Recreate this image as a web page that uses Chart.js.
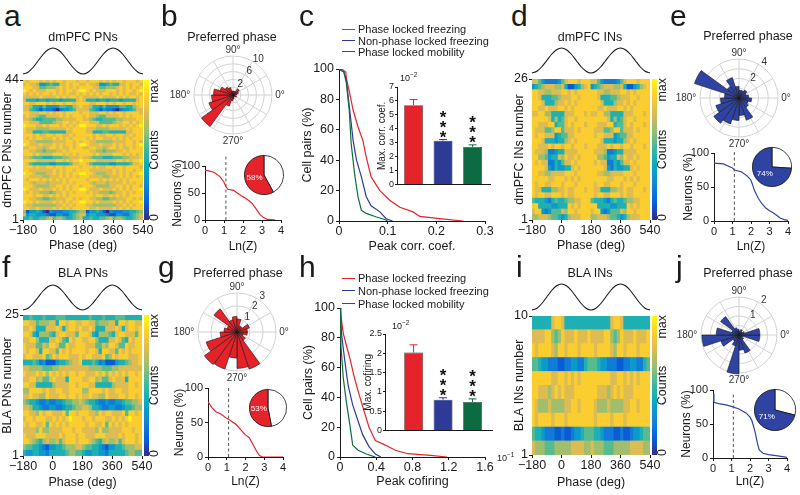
<!DOCTYPE html>
<html><head><meta charset="utf-8">
<script src="https://cdn.jsdelivr.net/npm/chart.js@4.4.1/dist/chart.umd.min.js"></script>
<style>
html,body{margin:0;padding:0;background:#fff;}
#fig{position:relative;width:800px;height:495px;overflow:hidden;font-family:"Liberation Sans",Arial,Helvetica,sans-serif;color:#1a1a1a;}
#fig canvas{position:absolute;}
.t{position:absolute;white-space:nowrap;line-height:1;}
.t sup{font-size:70%;vertical-align:top;position:relative;top:-2px;}
.lg{position:absolute;height:0;border-top:1.4px solid;}
</style></head><body><div id="fig"></div>
<script>
// ================= DATA =================
const phaseTicks = [-180, 0, 180, 360, 540];
const binsPerCycle = 18;
// LFP schematic, one cycle -180..180 every 30 deg
const waveY = [0, 0.07, 0.25, 0.5, 0.75, 0.93, 1, 0.93, 0.75, 0.5, 0.25, 0.07, 0];

// heatmap rows (top row first), 18 phase bins of one cycle, 0 = low ... 9 = max
const pfcPNRows = [
"878887878788788878","787763345447787887","888775566678787878","987877788878788789",
"878787887878787787","777778777787878878","744434434443444478","887788878788788788",
"776443533335544678","775431322102334577","887778878788788887","787765577778787888",
"776544555566777788","887775555677887878","988877878887878789","877766667777787888",
"877444554444477888","888787788788778788","878788777878787888","887766666777788787",
"987778777878788789","778877678878778788","887766566677878888","888787777888787878",
"776555444555667778","888877777788787889","875444443344445778","888787788788788887",
"887777777878788788","988766677878787889","887777667778787878","878887878787878888",
"887677767777878788","888766667788787887","987778777878787889","878776665677878788",
"888788778787878888","887766556677788787","988787777878787889","877666666677878788",
"887787777878787888","613343103222334456","734433321133224567","445445567566544567"];
const pfcINRows = [
"775322223578887888","345677766741134678","887766777887878888","887444556777887888",
"888744467787878888","887787778878788888","778866444477788878","888887464578878888",
"887778845578788878","877755688577787888","878877734557788888","888744434467878888",
"887778788788788878","877762234477778888","886653447687787888","878772243577878888",
"888873243344787888","887766777788878888","888887788878787888","878877888788878888",
"877444667787788878","878877888787788888","544432454456677888","884444334448787888",
"788323555768878888","667776554346777888"];
const blaPNRows = [
"445444544455544444","887756667748878877","778744477787478878","887436665478877758",
"778864447787548788","877755768875587788","878874887758787888","788777856878887778",
"444542311134456778","776666555667777777","877787868787878878","778867557877748888",
"887744444677778878","668888787788778888","778776687778878878","654432232233455667",
"776443223322344566","887768788777858878","788788877878789888","878877858787878888",
"777768667777888788","877788877778788878","887654676675788878","655443213344566677",
"433443324444456655"];
const blaINRows = [
"444444788744444444","777788656877787778","878888768878887888","554332221122332245",
"888888778878787888","887776787877788888","876667666677887888","878888788878888888",
"544322211211233455","766655566666777766"];
const countLevels = 9.2;   // digit / countLevels -> position on the colour scale

// rose histograms: 20 bins of 18 deg, counter-clockwise from 0 deg
const roseB = [1, 1.5, 2, 1, 1, 1, 2, 2.5, 3.5, 5, 5.5, 6.5, 10, 3, 1.5, 1, 0.5, 0.5, 1, 0.5];
const roseE = [1.0, 0.8, 1.0, 0.8, 0.8, 1.2, 2.2, 1.5, 4.8, 1.5, 1.9, 2.5, 3.2, 2.8, 2.3, 1.8, 2.4, 1.2, 1.0, 1.3];
const roseG = [0.8, 1.0, 0.5, 0.5, 1.0, 1.2, 1.0, 2.2, 0.8, 1.0, 1.3, 2.5, 3.1, 3.0, 2.0, 2.8, 3.0, 0.8, 0.5, 0.8];
const roseJ = [1.1, 0.3, 0.2, 0.3, 0.2, 0.3, 0.4, 1.2, 0.4, 1.2, 1.95, 1.0, 0.4, 0.6, 2.05, 0.8, 1.0, 0.3, 0.2, 1.1];

// % neurons with Ln(Z) above x
const lnzBx = [0,0.2,0.5,0.8,1.0,1.1,1.2,1.5,1.7,1.9,2.1,2.3,2.5,2.7,2.9,3.1,3.3,3.6,3.7];
const lnzBy = [92,91,88,80,70,62,57,55,50,45,41,36,30,20,10,4,1,0.3,0];
const lnzEx = [0,0.5,1.0,1.1,1.5,1.8,2.0,2.1,2.2,2.4,2.6,2.8,3.0,3.2,3.4,3.6,3.8,4.0];
const lnzEy = [85,84,78,75,72,66,60,52,44,33,25,19,15,12,8,4,2,1];
const lnzGx = [0,0.2,0.4,0.7,1.0,1.2,1.5,1.8,2.0,2.2,2.4,2.6,2.75,2.9,4.0];
const lnzGy = [80,72,66,62,56,53,47,38,32,28,18,8,2,0,0];
const lnzJx = [0,0.05,0.3,0.7,1.0,1.4,1.8,2.0,2.1,2.2,2.3,2.4,2.5,2.7,3.0,3.5,4.0];
const lnzJy = [95,82,80,78,76,72,66,60,55,46,35,22,12,7,5,3,1];
const lnzThreshold = 1.1;
const pieB = 58, pieE = 74, pieG = 53, pieJ = 71;

// c: cumulative peak correlation coefficient
const corrRedX = [0,0.008,0.014,0.015,0.022,0.029,0.039,0.049,0.056,0.066,0.084,0.104,0.125,0.152,0.166,0.207,0.255];
const corrRedY = [100,99.5,98,94,84,73,62,53,42,29,20,13.7,9,6,3,1.5,0];
const corrBlueX = [0,0.01,0.015,0.022,0.029,0.036,0.046,0.056,0.066,0.084,0.097,0.11];
const corrBlueY = [100,98,93,73,53,40,29,16,10,6,1.5,0];
const corrGreenX = [0,0.01,0.015,0.021,0.025,0.032,0.039,0.046,0.056,0.077,0.094,0.1];
const corrGreenY = [100,98,91,73,51,31,16,7,5,2.6,1,0];
const corrBars = [5.7, 3.15, 2.7];
const corrErr = [0.4, 0.08, 0.15];
// h: cumulative peak cofiring (x in units of 10^-1)
const cofRedX = [0,0.018,0.036,0.07,0.11,0.16,0.21,0.27,0.32,0.39,0.5,0.61,0.75,1.0,1.18];
const cofRedY = [100,91,83,75,66,53,42,30,20,11,8,4.5,2.2,1.1,0];
const cofBlueX = [0,0.018,0.054,0.09,0.14,0.2,0.25,0.32,0.39,0.45];
const cofBlueY = [100,82,64,48,35,24,15,7,2,0];
const cofGreenX = [0,0.01,0.036,0.07,0.11,0.14,0.2,0.29,0.39];
const cofGreenY = [100,75,53,37,21,8,4.5,2,0];
const cofBars = [2.02, 0.80, 0.74];
const cofErr = [0.2, 0.05, 0.08];
const starFlags = [false, true, true];
const groupNames = ['Phase locked freezing', 'Non-phase locked freezing', 'Phase locked mobility'];

// ================= STYLE =================
const INK = '#1a1a1a';
const FONT = '"Liberation Sans", Arial, Helvetica, sans-serif';
const RED = '#e4232b', BLUE = '#2d3b96', GREEN = '#0d6b42';
const ROSE_RED = '#e5222a', ROSE_BLUE = '#2f44a2';
const PARULA = ['#352a87','#0363e1','#1485d4','#06a7c6','#38b99e','#92bf73','#d9ba56','#fcce2e','#f9fb0e'];
const PAR_RGB = PARULA.map(h => [1,3,5].map(i => parseInt(h.substr(i,2),16)));
function parula(t){ t = Math.max(0, Math.min(1, t)); const p = t*(PAR_RGB.length-1); const i = Math.min(Math.floor(p), PAR_RGB.length-2); const f = p - i; const a = PAR_RGB[i], b = PAR_RGB[i+1]; return 'rgb(' + a.map((v,k)=>Math.round(v+(b[k]-v)*f)).join(',') + ')'; }

Chart.defaults.font.family = FONT;
Chart.defaults.color = INK;
Chart.defaults.animation = false;
Chart.defaults.responsive = false;
Chart.defaults.maintainAspectRatio = false;
Chart.defaults.devicePixelRatio = 1;
Chart.defaults.events = [];
Chart.defaults.plugins.legend.display = false;
Chart.defaults.plugins.tooltip.enabled = false;
Chart.defaults.layout.autoPadding = false;

const FIG = document.getElementById('fig');
function addCanvas(x, y, w, h) {
  const c = document.createElement('canvas');
  c.width = w; c.height = h;
  c.style.left = x + 'px'; c.style.top = y + 'px';
  c.style.width = w + 'px'; c.style.height = h + 'px';
  FIG.appendChild(c); return c;
}
function frame(plot, L, B, e) {
  const x = plot.l - L - e.l, y = plot.t - e.t;
  const w = e.l + L + (plot.r - plot.l) + e.r;
  const h = e.t + (plot.b - plot.t) + B + e.b;
  return {canvas: addCanvas(x, y, w, h), padding: {left: e.l, top: e.t, right: e.r, bottom: e.b}};
}
function T(s, x, y, o = {}) {
  const d = document.createElement('div'); d.className = 't';
  d.innerHTML = s;
  d.style.fontSize = (o.size || 12.5) + 'px';
  d.style.left = x + 'px'; d.style.top = y + 'px';
  const ax = o.align === 'l' ? '0' : o.align === 'r' ? '-100%' : '-50%';
  d.style.transform = 'translate(' + ax + ',-50%)';
  if (o.color) d.style.color = o.color;
  FIG.appendChild(d);
}
function axis(o) {
  return {
    type: 'linear', min: o.min, max: o.max, offset: false, display: o.display !== false,
    afterFit: s => { if (s.isHorizontal()) s.height = o.fit; else s.width = o.fit; },
    afterBuildTicks: o.ticks ? (s => { s.ticks = o.ticks.map(v => ({value: v})); }) : undefined,
    ticks: {display: o.showTicks !== false, stepSize: o.step, autoSkip: false, maxRotation: 0, minRotation: 0,
            padding: o.pad ?? 1, font: {size: o.font || 12.5}, color: INK, callback: o.fmt || (v => String(v))},
    grid: {display: o.grid !== false, drawOnChartArea: false, drawTicks: true, tickLength: o.tickLen ?? 3, color: INK, tickColor: INK, offset: false},
    border: {display: o.border !== false, color: INK, width: 1},
    title: {display: !!o.title, text: o.title, font: {size: o.titleSize || 12.5}, padding: 0, color: INK}
  };
}
const fmt1 = v => (Math.abs(v) < 1e-9 ? '0' : String(+v.toFixed(2)));
const fmtPhase = v => (v < 0 ? '\u2212' + Math.abs(v) : String(v));

// ---------- plugins ----------
const colorbarPlugin = {
  id: 'cbar',
  afterDraw(chart, args, o) {
    const {ctx, chartArea: ca} = chart;
    const x0 = ca.right + o.gap, w = o.w;
    const g = ctx.createLinearGradient(0, ca.bottom, 0, ca.top);
    PARULA.forEach((c, i) => g.addColorStop(i / (PARULA.length - 1), c));
    ctx.save();
    ctx.fillStyle = g; ctx.fillRect(x0, ca.top, w, ca.bottom - ca.top);
    ctx.fillStyle = INK; ctx.font = '12.5px ' + FONT; ctx.textBaseline = 'middle';
    const tx = x0 + w + o.tx;
    const put = (s, y, align) => { ctx.save(); ctx.translate(tx, y); ctx.rotate(-Math.PI / 2); ctx.textAlign = align; ctx.fillText(s, 0, 0); ctx.restore(); };
    put('max', ca.top - 1, 'right');
    put('Counts', (ca.top + ca.bottom) / 2, 'center');
    put('0', ca.bottom + 1, 'left');
    ctx.restore();
  }
};
const polarDeco = {
  id: 'polarDeco',
  beforeDatasetsDraw(chart, args, o) {
    const s = chart.scales.r, ctx = chart.ctx, cx = s.xCenter, cy = s.yCenter, R = s.drawingArea;
    ctx.save(); ctx.strokeStyle = '#d2d2d2'; ctx.lineWidth = 1;
    for (let a = 0; a < 360; a += 30) {
      const t = a * Math.PI / 180;
      ctx.beginPath(); ctx.moveTo(cx, cy); ctx.lineTo(cx + R * Math.cos(t), cy - R * Math.sin(t)); ctx.stroke();
    }
    ctx.restore();
  },
  afterDraw(chart, args, o) {
    const s = chart.scales.r, ctx = chart.ctx, cx = s.xCenter, cy = s.yCenter, R = s.drawingArea;
    ctx.save(); ctx.fillStyle = '#333'; ctx.font = '10px ' + FONT; ctx.textAlign = 'center'; ctx.textBaseline = 'middle';
    ctx.fillText('90\u00b0', cx, cy - R - 6);
    ctx.fillText('270\u00b0', cx, cy + R + 7);
    ctx.fillText('180\u00b0', cx - R - 14, cy);
    ctx.fillText('0\u00b0', cx + R + 8, cy);
    const t = 55 * Math.PI / 180;
    o.ring.forEach(v => { const d = s.getDistanceFromCenterForValue(v) + 5; ctx.fillText(String(v), cx + d * Math.cos(t), cy - d * Math.sin(t)); });
    ctx.restore();
  }
};
const pieLabel = {
  id: 'pieLabel',
  afterDraw(chart, args, o) {
    const arc = chart.getDatasetMeta(0).data[1];
    const p = arc.getCenterPoint();
    const ctx = chart.ctx; ctx.save(); ctx.fillStyle = '#fff'; ctx.font = '8px ' + FONT; ctx.textAlign = 'center'; ctx.textBaseline = 'middle';
    ctx.fillText(chart.data.datasets[0].data[1] + '%', p.x, p.y); ctx.restore();
  }
};
const barDeco = {
  id: 'barDeco',
  afterDatasetsDraw(chart, args, o) {
    const meta = chart.getDatasetMeta(0), ys = chart.scales.y, ctx = chart.ctx;
    ctx.save();
    meta.data.forEach((bar, i) => {
      const v = o.values[i], e = o.errors[i];
      const yTop = ys.getPixelForValue(v + e), yV = ys.getPixelForValue(v);
      ctx.strokeStyle = o.colors[i]; ctx.lineWidth = 1;
      ctx.beginPath(); ctx.moveTo(bar.x, yV); ctx.lineTo(bar.x, yTop);
      ctx.moveTo(bar.x - 4, yTop); ctx.lineTo(bar.x + 4, yTop); ctx.stroke();
      if (o.stars[i]) {
        ctx.fillStyle = '#111'; ctx.font = 'bold 17px ' + FONT; ctx.textAlign = 'center'; ctx.textBaseline = 'alphabetic';
        for (let k = 0; k < 3; k++) { const c = yTop - 7 - k * 10; ctx.fillText('*', bar.x, c + 10); }
      }
    });
    ctx.restore();
  }
};

// ---------- builders ----------
function heatmap(rows, plot, L, B, yTitle, cbGap) {
  const N = rows.length;
  const {canvas, padding} = frame(plot, L, B, {l: 0, t: 10, r: 36, b: 3});
  const pmin = phaseTicks[0], pmax = phaseTicks[phaseTicks.length - 1];
  const binW = (pmax - pmin) / (2 * binsPerCycle);
  const cells = [], colors = [];
  rows.forEach((row, k) => {
    const rowNo = N - k;
    const vals = row.split('').map(Number);
    vals.concat(vals).forEach((v, j) => {
      cells.push({x: pmin + binW * (j + 0.5), y: [rowNo - 1, rowNo]});
      colors.push(parula(v / countLevels));
    });
  });
  new Chart(canvas, {
    type: 'bar',
    data: {datasets: [{data: cells, backgroundColor: colors, borderWidth: 0, barPercentage: 1, categoryPercentage: 1, inflateAmount: 0.45}]},
    options: {
      layout: {padding},
      plugins: {cbar: {gap: cbGap, w: 5, tx: 6}},
      scales: {
        x: axis({min: pmin, max: pmax, fit: B, ticks: phaseTicks, fmt: fmtPhase, title: 'Phase (deg)', border: false, pad: 0}),
        y: axis({min: 0, max: N, fit: L, ticks: [0, N], fmt: v => (v === 0 ? '1' : String(N)), title: yTitle, border: false})
      }
    },
    plugins: [colorbarPlugin]
  });
}
function wave(plot) {
  const c = addCanvas(plot.l - 2, plot.t - 2, plot.r - plot.l + 4, plot.b - plot.t + 4);
  const step = 360 / (waveY.length - 1);
  const pts = [];
  for (let cyc = 0; cyc < 2; cyc++) waveY.forEach((y, i) => { if (cyc && !i) return; pts.push({x: phaseTicks[0] + cyc * 360 + i * step, y}); });
  new Chart(c, {
    type: 'line',
    data: {datasets: [{data: pts, borderColor: INK, borderWidth: 1.1, pointRadius: 0, cubicInterpolationMode: 'monotone', clip: false}]},
    options: {layout: {padding: 2}, scales: {x: {type: 'linear', display: false, min: phaseTicks[0], max: phaseTicks[phaseTicks.length - 1]}, y: {type: 'linear', display: false, min: 0, max: 1}}}
  });
}
function rose(vals, cx, cy, R, max, step, ring, color) {
  const c = addCanvas(cx - R - 34, cy - R - 16, 2 * R + 54, 2 * R + 32);
  const n = vals.length;
  const segs = vals.map((_, i) => vals[n - 1 - i]);
  new Chart(c, {
    type: 'polarArea',
    data: {labels: segs.map(() => ''), datasets: [{data: segs, backgroundColor: color, borderColor: '#1a1a1a', borderWidth: 0.6, clip: false}]},
    options: {
      layout: {padding: {left: 34, top: 16, right: 20, bottom: 16}},
      plugins: {polarDeco: {ring}},
      scales: {r: {min: 0, max, startAngle: 90, ticks: {display: false, stepSize: step}, grid: {color: '#d2d2d2', lineWidth: 1}, angleLines: {display: false}, pointLabels: {display: false}}}
    },
    plugins: [polarDeco]
  });
}
function pie(p, cx, cy, r, color) {
  const c = addCanvas(cx - r - 1, cy - r - 1, 2 * r + 2, 2 * r + 2);
  new Chart(c, {
    type: 'pie',
    data: {datasets: [{data: [100 - p, p], backgroundColor: ['#ffffff', color], borderColor: '#111', borderWidth: 0.8}]},
    options: {layout: {padding: 1}, rotation: 0},
    plugins: [pieLabel]
  });
}
function lnzPlot(xs, ys, plot, L, B, dashTop, color) {
  const {canvas, padding} = frame(plot, L, B, {l: 0, t: 10, r: 12, b: 2});
  new Chart(canvas, {
    type: 'line',
    data: {datasets: [
      {data: [{x: lnzThreshold, y: 0}, {x: lnzThreshold, y: dashTop}], borderColor: '#555', borderWidth: 1, borderDash: [3, 2.5], pointRadius: 0, clip: false},
      {data: xs.map((x, i) => ({x, y: ys[i]})), borderColor: color, borderWidth: 1.2, pointRadius: 0}
    ]},
    options: {
      layout: {padding},
      scales: {
        x: axis({min: 0, max: 4, step: 1, fit: B, font: 11, title: 'Ln(Z)', titleSize: 12}),
        y: axis({min: 0, max: 100, step: 50, fit: L, font: 11, title: 'Neurons (%)', titleSize: 12, pad: 2})
      }
    }
  });
}
function cumPlot(series, plot, L, B, xmax, xstep, xTitle) {
  const {canvas, padding} = frame(plot, L, B, {l: 0, t: 10, r: 15, b: 2});
  new Chart(canvas, {
    type: 'line',
    data: {datasets: series.map(s => ({data: s.x.map((x, i) => ({x, y: s.y[i]})), borderColor: s.c, borderWidth: 1.2, pointRadius: 0}))},
    options: {
      layout: {padding},
      scales: {
        x: axis({min: 0, max: xmax, step: xstep, fit: B, fmt: fmt1, title: xTitle, pad: 0}),
        y: axis({min: 0, max: 100, step: 20, fit: L, title: 'Cell pairs (%)', pad: 2})
      }
    }
  });
}
function inset(vals, errs, plot, L, xmin, xmax, ymax, ystep, yTitle) {
  const {canvas, padding} = frame(plot, L, 1, {l: 0, t: 8, r: 4, b: 2});
  const cols = [RED, BLUE, GREEN];
  new Chart(canvas, {
    type: 'bar',
    data: {datasets: [{data: vals.map((v, i) => ({x: i, y: v})), backgroundColor: cols, borderColor: '#2a2a2a', borderWidth: 0.6, borderSkipped: 'bottom', barPercentage: 0.8, categoryPercentage: 0.8}]},
    options: {
      layout: {padding},
      plugins: {barDeco: {values: vals, errors: errs, colors: cols, stars: starFlags}},
      scales: {
        x: axis({min: xmin, max: xmax, fit: 1, ticks: vals.map((_, i) => i), showTicks: false, grid: false}),
        y: axis({min: 0, max: ymax, step: ystep, fit: L, font: 9, title: yTitle, titleSize: 10, fmt: fmt1, tickLen: 2, pad: 1})
      }
    },
    plugins: [barDeco]
  });
}

// ================= BUILD =================
// a
wave({l: 23, t: 48, r: 143, b: 74});
heatmap(pfcPNRows, {l: 23, t: 80, r: 143, b: 220}, 23, 33, 'dmPFC PNs number', 1);
// d
wave({l: 532, t: 48, r: 650, b: 73});
heatmap(pfcINRows, {l: 532, t: 79, r: 650, b: 220}, 20, 33, 'dmPFC INs number', 2);
// f
wave({l: 23, t: 285, r: 142, b: 310});
heatmap(blaPNRows, {l: 23, t: 315, r: 142, b: 456}, 23, 34, 'BLA PNs number', 2);
// i
wave({l: 532, t: 284, r: 650, b: 310});
heatmap(blaINRows, {l: 532, t: 316, r: 650, b: 455}, 20, 35, 'BLA INs number', 2);

// roses
rose(roseB, 233, 95, 39, 10, 2, [2, 6, 10], ROSE_RED);
rose(roseE, 739, 98, 39, 4, 1, [2, 4], ROSE_BLUE);
rose(roseG, 237, 332, 39, 3, 1, [1, 2, 3], ROSE_RED);
rose(roseJ, 739, 335, 38, 2, 0.5, [1, 2], ROSE_BLUE);

// Ln(Z) plots
lnzPlot(lnzBx, lnzBy, {l: 205, t: 166, r: 281, b: 220}, 35, 34, 125, RED);
lnzPlot(lnzEx, lnzEy, {l: 714, t: 153, r: 788, b: 221}, 33, 33, 103, ROSE_BLUE);
lnzPlot(lnzGx, lnzGy, {l: 208, t: 388, r: 283, b: 457}, 36, 32, 100, RED);
lnzPlot(lnzJx, lnzJy, {l: 713, t: 390, r: 787, b: 458}, 34, 31, 97, ROSE_BLUE);
pie(pieB, 264, 175, 20, RED);
pie(pieE, 772, 167, 20, ROSE_BLUE);
pie(pieG, 268, 408, 19, RED);
pie(pieJ, 775, 410, 21, ROSE_BLUE);

// c and h
cumPlot([{x: corrGreenX, y: corrGreenY, c: GREEN}, {x: corrBlueX, y: corrBlueY, c: BLUE}, {x: corrRedX, y: corrRedY, c: RED}],
        {l: 339, t: 69, r: 485, b: 221}, 39, 33, 0.3, 0.1, 'Peak corr. coef.');
inset(corrBars, corrErr, {l: 397, t: 87, r: 490, b: 188}, 21, -0.56, 2.59, 7, 1, 'Max. corr. coef.');
cumPlot([{x: cofGreenX, y: cofGreenY, c: GREEN}, {x: cofBlueX, y: cofBlueY, c: BLUE}, {x: cofRedX, y: cofRedY, c: RED}],
        {l: 340, t: 308, r: 485, b: 457}, 39, 32, 1.6, 0.4, 'Peak cofiring');
inset(cofBars, cofErr, {l: 385, t: 334, r: 492, b: 434}, 23, -0.97, 2.66, 2.5, 0.5, 'Max. cofiring');

// ---------- texts ----------
[['a',4,15.5],['b',161,15.5],['c',299,15.5],['d',511,15.5],['e',670,15.5],
 ['f',2,267],['g',158,267],['h',299,267],['i',516,267],['j',676,267]].forEach(([s,x,y]) => T(s, x, y, {size: 30, align: 'l'}));
T('dmPFC PNs', 83, 36.5); T('Preferred phase', 232, 37); T('dmPFC INs', 590, 36.5); T('Preferred phase', 748, 36);
T('BLA PNs', 83, 272.5); T('Preferred phase', 238, 272.5); T('BLA INs', 590, 272.5); T('Preferred phase', 748, 272.5);
function legend(ys) {
  [RED, BLUE, GREEN].forEach((c, i) => {
    const d = document.createElement('div'); d.className = 'lg';
    d.style.left = '342px'; d.style.top = (ys[i] - 0.7) + 'px'; d.style.width = '13px'; d.style.borderColor = c;
    FIG.appendChild(d);
    T(groupNames[i], 358, ys[i], {size: 11, align: 'l'});
  });
}
legend([29.3, 40.5, 51.7]);
legend([278.3, 290.7, 303.8]);
T('10<sup>\u22122</sup>', 400, 78, {size: 9, align: 'l'});
T('10<sup>\u22122</sup>', 392, 326, {size: 9, align: 'l'});
T('10<sup>\u22121</sup>', 497, 458, {size: 9, align: 'l'});
</script></body></html>
